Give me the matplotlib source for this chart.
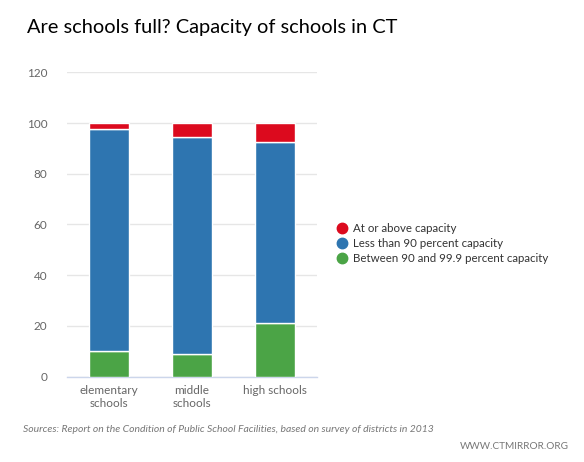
import matplotlib
matplotlib.use("Agg")
import matplotlib.pyplot as plt
import numpy as np
from matplotlib.lines import Line2D

plt.rcParams['font.family'] = ['Lato', 'DejaVu Sans']

categories = ["elementary\nschools", "middle\nschools", "high schools"]
between_90_99 = [10.0, 9.0, 21.0]
less_than_90 = [87.6, 85.3, 71.6]
at_or_above = [2.4, 5.7, 7.4]
yticks = [0, 20, 40, 60, 80, 100, 120]

c_red = "#dc0a1e"
c_blue = "#2e75b0"
c_green = "#4ba446"

fig = plt.figure(figsize=(5.84, 4.62), dpi=100)
ax = fig.add_axes([67/584, 1 - 376.7/462, 250/584, 304.4/462])

x = np.arange(len(categories))
w = 0.48
g = np.array(between_90_99)
b = np.array(less_than_90)
r = np.array(at_or_above)
ax.bar(x, g, w, color=c_green, edgecolor="white", linewidth=1, zorder=3)
ax.bar(x, b, w, bottom=g, color=c_blue, edgecolor="white", linewidth=1, zorder=3)
ax.bar(x, r, w, bottom=g + b, color=c_red, edgecolor="white", linewidth=1, zorder=3)

ax.set_xlim(-0.5, 2.5)
ax.set_ylim(0, 120)
ax.set_yticks(yticks)
ax.set_yticklabels([str(t) for t in yticks])
ax.set_xticks(x)
ax.set_xticklabels(categories)
ax.grid(axis="y", color="#e6e6e6", linewidth=1, zorder=0)
for s in ["top", "right", "left"]:
    ax.spines[s].set_visible(False)
ax.spines["bottom"].set_color("#ccd6eb")
ax.spines["bottom"].set_linewidth(1)
ax.tick_params(axis="y", length=0, pad=14, labelsize=8.5, labelcolor="#666666")
ax.tick_params(axis="x", length=0, pad=6, labelsize=8.5, labelcolor="#666666")

fig.text(27/584, 1 - 27/462, "Are schools full? Capacity of schools in CT",
         fontsize=14.4, color="#000000", va="center", ha="left")

handles = [Line2D([], [], marker="o", linestyle="none", markersize=7.5, color=c)
           for c in (c_red, c_blue, c_green)]
labels = ["At or above capacity", "Less than 90 percent capacity",
          "Between 90 and 99.9 percent capacity"]
fig.legend(handles, labels, loc="center left", bbox_to_anchor=(335/584, 1 - 243.3/462),
           frameon=False, fontsize=8.3, handletextpad=0.4, labelspacing=0.33,
           handlelength=1.2, borderaxespad=0, borderpad=0, labelcolor="#333333")

fig.text(23/584, 1 - 430/462,
         "Sources: Report on the Condition of Public School Facilities, based on survey of districts in 2013",
         fontsize=7.45, style="italic", color="#777777", va="center", ha="left")
fig.text(569/584, 1 - 446.7/462, "WWW.CTMIRROR.ORG", fontsize=7.2, color="#777777",
         va="center", ha="right")

fig.savefig("out.png", dpi=100)
